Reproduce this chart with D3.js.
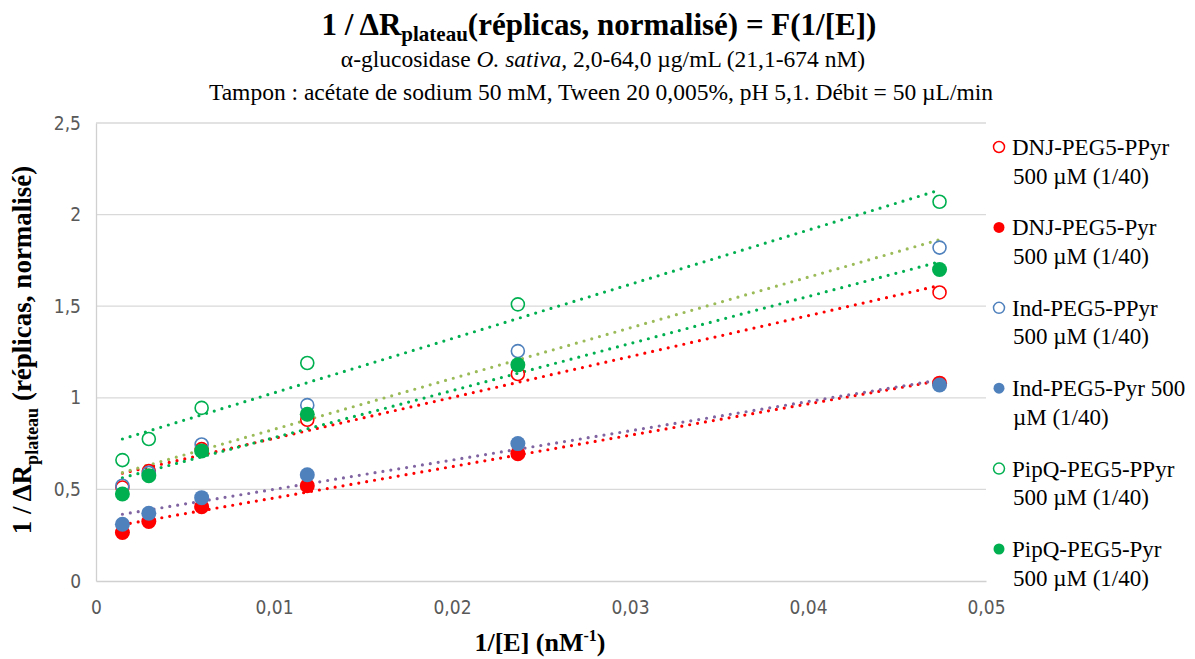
<!DOCTYPE html>
<html><head><meta charset="utf-8">
<script src="https://cdn.jsdelivr.net/npm/d3@7"></script>
<style>body{margin:0;background:#fff}svg{display:block}</style>
</head><body>
<svg id="chart" width="1195" height="659"></svg>
<script>
const xValues = [0.001484, 0.002967, 0.005935, 0.01187, 0.02370, 0.04739];
const seriesNames = ["DNJ-PEG5-PPyr 500 µM (1/40)", "DNJ-PEG5-Pyr 500 µM (1/40)", "Ind-PEG5-PPyr 500 µM (1/40)", "Ind-PEG5-Pyr 500 µM (1/40)", "PipQ-PEG5-PPyr 500 µM (1/40)", "PipQ-PEG5-Pyr 500 µM (1/40)"];
const legendLines = [["DNJ-PEG5-PPyr","500 µM (1/40)"],["DNJ-PEG5-Pyr","500 µM (1/40)"],["Ind-PEG5-PPyr","500 µM (1/40)"],["Ind-PEG5-Pyr 500","µM (1/40)"],["PipQ-PEG5-PPyr","500 µM (1/40)"],["PipQ-PEG5-Pyr","500 µM (1/40)"]];
const dnjPPyr = [0.51, 0.60, 0.72, 0.88, 1.13, 1.575];
const dnjPyr = [0.265, 0.325, 0.405, 0.52, 0.695, 1.08];
const indPPyr = [0.52, 0.59, 0.745, 0.96, 1.255, 1.82];
const indPyr = [0.31, 0.37, 0.455, 0.58, 0.75, 1.07];
const pipqPPyr = [0.66, 0.775, 0.945, 1.19, 1.51, 2.07];
const pipqPyr = [0.475, 0.575, 0.71, 0.91, 1.18, 1.70];
const markerColors = ["#FF0000", "#FF0000", "#4F81BD", "#4F81BD", "#00B050", "#00B050"];
const markerFilled = [false, true, false, true, false, true];
const trendColors = ["#FF0000", "#FF0000", "#9BBB59", "#8064A2", "#00B050", "#00B050"];
const yTicks = [0, 0.5, 1, 1.5, 2, 2.5];
const xTicks = [0, 0.01, 0.02, 0.03, 0.04, 0.05];

const allSeries = [dnjPPyr, dnjPyr, indPPyr, indPyr, pipqPPyr, pipqPyr];
const svg = d3.select("#chart");
const L = 96, R = 986, T = 123, B = 581;
const x = d3.scaleLinear().domain([0, 0.05]).range([L, R]);
const y = d3.scaleLinear().domain([0, 2.5]).range([B, T]);
const fmt = d => String(d).replace(".", ",");
const tickFont = "'Liberation Sans Narrow','DejaVu Sans Condensed','Liberation Sans',sans-serif";
const serif = "'Liberation Serif','Times New Roman',serif";

// gridlines
svg.append("g").selectAll("line").data(yTicks.filter(d => d > 0)).join("line")
  .attr("x1", L).attr("x2", R).attr("y1", d => y(d)).attr("y2", d => y(d))
  .attr("stroke", "#D9D9D9").attr("stroke-width", 1.3);

// axes
const yAxis = svg.append("g").attr("transform", `translate(${L},0)`)
  .call(d3.axisLeft(y).tickValues(yTicks).tickFormat(fmt).tickSize(0).tickPadding(15));
yAxis.select(".domain").attr("stroke", "#D0D0D0").attr("stroke-width", 1.3);
yAxis.selectAll("text").attr("font-family", tickFont).attr("font-size", 19).attr("fill", "#595959");
const xAxis = svg.append("g").attr("transform", `translate(0,${B})`)
  .call(d3.axisBottom(x).tickValues(xTicks).tickFormat(fmt).tickSize(0).tickPadding(20));
xAxis.select(".domain").attr("stroke", "#D0D0D0").attr("stroke-width", 1.3);
xAxis.selectAll("text").attr("font-family", tickFont).attr("font-size", 19).attr("fill", "#595959");

// trendlines (least squares)
function fit(ys) {
  const mx = d3.mean(xValues), my = d3.mean(ys);
  let sxy = 0, sxx = 0;
  xValues.forEach((xv, i) => { sxy += (xv - mx) * (ys[i] - my); sxx += (xv - mx) ** 2; });
  const b = sxy / sxx; return { a: my - b * mx, b };
}
const xMin = d3.min(xValues), xMax = d3.max(xValues);
const trendOrder = [0, 1, 3, 2, 5, 4];
trendOrder.forEach(i => {
  const f = fit(allSeries[i]);
  svg.append("line")
    .attr("x1", x(xMin)).attr("y1", y(f.a + f.b * xMin))
    .attr("x2", x(xMax)).attr("y2", y(f.a + f.b * xMax))
    .attr("stroke", trendColors[i]).attr("stroke-width", 3.2)
    .attr("stroke-dasharray", "0 8").attr("stroke-linecap", "round");
});

// markers
allSeries.forEach((ys, i) => {
  svg.append("g").selectAll("circle").data(ys).join("circle")
    .attr("cx", (d, j) => x(xValues[j])).attr("cy", d => y(d))
    .attr("r", markerFilled[i] ? 7.5 : 6.5)
    .attr("fill", markerFilled[i] ? markerColors[i] : "none")
    .attr("stroke", markerColors[i]).attr("stroke-width", markerFilled[i] ? 0 : 1.6);
});

// legend
const lg = svg.append("g");
legendLines.forEach((lines, i) => {
  const cy = 147 + i * 80.4;
  lg.append("circle").attr("cx", 999).attr("cy", cy).attr("r", 5.5)
    .attr("fill", markerFilled[i] ? markerColors[i] : "#fff")
    .attr("stroke", markerColors[i]).attr("stroke-width", markerFilled[i] ? 0 : 1.5);
  lines.forEach((t, k) => {
    lg.append("text").attr("x", k === 0 ? 1012 : 1013).attr("y", cy + 8 + k * 28.5)
      .attr("font-family", serif).attr("font-size", 23).attr("fill", "#000").text(t);
  });
});

// titles
const title = svg.append("text").attr("x", 599).attr("y", 35).attr("text-anchor", "middle")
  .attr("font-family", serif).attr("font-size", 31).attr("font-weight", "bold").attr("fill", "#000");
title.append("tspan").text("1 / ΔR");
title.append("tspan").attr("font-size", 21).attr("dy", 6).text("plateau");
title.append("tspan").attr("dy", -6).text("(réplicas, normalisé) = F(1/[E])");

const sub1 = svg.append("text").attr("x", 603).attr("y", 67).attr("text-anchor", "middle")
  .attr("font-family", serif).attr("font-size", 23.5).attr("fill", "#000");
sub1.append("tspan").text("α-glucosidase ");
sub1.append("tspan").attr("font-style", "italic").text("O. sativa,");
sub1.append("tspan").text(" 2,0-64,0 µg/mL (21,1-674 nM)");
svg.append("text").attr("x", 601).attr("y", 100).attr("text-anchor", "middle")
  .attr("font-family", serif).attr("font-size", 23.5).attr("fill", "#000")
  .text("Tampon : acétate de sodium 50 mM, Tween 20 0,005%, pH 5,1. Débit = 50 µL/min");

// y title
const yt = svg.append("text").attr("transform", "translate(31,350) rotate(-90)").attr("text-anchor", "middle")
  .attr("font-family", serif).attr("font-size", 27).attr("font-weight", "bold").attr("fill", "#000");
yt.append("tspan").text("1 / ΔR");
yt.append("tspan").attr("font-size", 18).attr("dy", 7).text("plateau");
yt.append("tspan").attr("dy", -7).text(" (réplicas, normalisé)");

// x title
const xt = svg.append("text").attr("x", 540).attr("y", 651).attr("text-anchor", "middle")
  .attr("font-family", serif).attr("font-size", 26).attr("font-weight", "bold").attr("fill", "#000");
xt.append("tspan").text("1/[E] (nM");
xt.append("tspan").attr("font-size", 16).attr("dy", -10).text("-1");
xt.append("tspan").attr("dy", 10).text(")");
</script>
</body></html>
